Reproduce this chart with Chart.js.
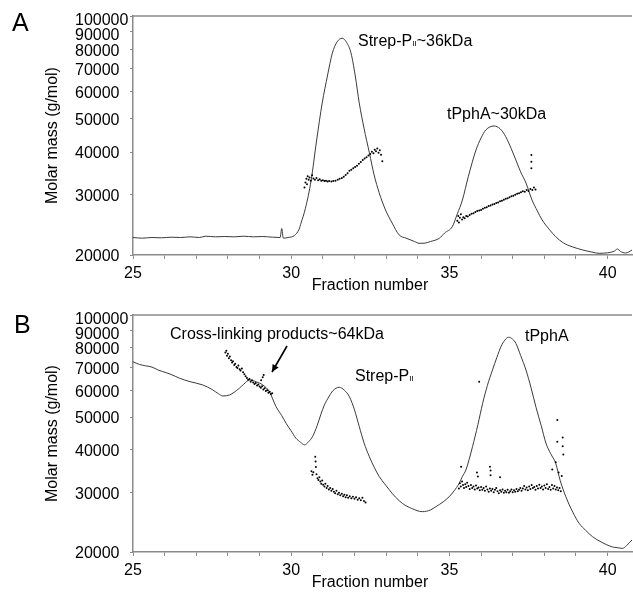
<!DOCTYPE html>
<html>
<head>
<meta charset="utf-8">
<script src="https://cdn.jsdelivr.net/npm/chart.js@4.4.1/dist/chart.umd.min.js"></script>
<style>
  html, body { margin: 0; padding: 0; background: #fff; }
  #wrap { position: relative; width: 633px; height: 596px; overflow: hidden; }
  canvas { position: absolute; left: 0; }
</style>
</head>
<body>
<div id="wrap">
  <canvas id="cA" width="633" height="298" style="top:0px"></canvas>
  <canvas id="cB" width="633" height="298" style="top:298px"></canvas>
</div>
<script>
// ---------- axis ticks ----------
const yTicks = [20000, 30000, 40000, 50000, 60000, 70000, 80000, 90000, 100000];
const xTicks = [25, 26, 27, 28, 29, 30, 31, 32, 33, 34, 35, 36, 37, 38, 39, 40];
const xTickLabels = [25, 30, 35, 40];

// ---------- Panel A: chromatogram trace ----------
const fracA = [25.0, 25.3, 25.6, 25.9, 26.2, 26.5, 26.8, 27.1, 27.3, 27.6, 27.9, 28.2, 28.5, 28.8, 29.1, 29.4, 29.65, 29.7, 29.75, 29.9,
  30.1, 30.25, 30.31, 30.45, 30.63, 30.8, 30.98, 31.15, 31.3, 31.45, 31.61, 31.75, 31.89, 32.02, 32.15, 32.3, 32.47, 32.62, 32.78, 32.98,
  33.19, 33.41, 33.63, 33.9, 34.04, 34.2, 34.4, 34.68, 34.85, 35.09, 35.25, 35.41, 35.6, 35.84, 36.0, 36.15, 36.41, 36.6, 36.78, 36.95,
  37.1, 37.25, 37.42, 37.61, 37.78, 37.93, 38.15, 38.36, 38.6, 38.88, 39.2, 39.5, 39.73, 40.0, 40.2, 40.31, 40.4, 40.57, 40.77];
const signalA = [22500, 22400, 22500, 22450, 22550, 22500, 22600, 22500, 22700, 22600, 22650, 22600, 22700, 22600, 22650, 22550, 22500, 23900, 22400, 22500,
  22800, 23800, 24800, 27400, 33100, 43100, 55700, 67200, 77900, 84000, 86100, 83700, 77900, 67200, 55700, 47000, 39800, 34300, 30400, 27100,
  24800, 22900, 22400, 21900, 21640, 21650, 21900, 22380, 23200, 24200, 26400, 28960, 34000, 40560, 44000, 46420, 47680, 46800, 44360, 41000,
  37920, 35000, 32480, 28960, 26900, 25320, 23800, 22620, 21700, 21140, 20700, 20400, 20230, 20300, 20500, 20820, 20500, 20270, 20680];

// ---------- Panel A: molar mass points (Strep-PII) ----------
const dotsA1Frac = [30.42, 30.45, 30.48, 30.5, 30.52, 30.55, 30.58, 30.62, 30.66, 30.7, 30.75, 30.8, 30.85, 30.9, 30.95, 31.0, 31.05, 31.1, 31.15, 31.2,
  31.27, 31.33, 31.4, 31.47, 31.53, 31.6, 31.66, 31.72, 31.78, 31.84, 31.9, 31.96, 32.02, 32.08, 32.14, 32.2, 32.26, 32.32, 32.38, 32.44,
  32.5, 32.55, 32.6, 32.64, 32.68, 32.72, 32.76, 32.8, 32.84, 32.88];
const dotsA1Mass = [31500, 32600, 33400, 32200, 34000, 33200, 33700, 33000, 34200, 33500, 33200, 33600, 33100, 33300, 33000, 33100, 32900, 33000, 32800, 32900,
  32800, 32900, 33000, 33200, 33400, 33600, 33900, 34300, 34700, 35300, 35500, 35900, 36200, 36500, 37000, 37400, 37900, 38300, 38600, 39100,
  39500, 40100, 39700, 40600, 40200, 41000, 39800, 40500, 39300, 37600];

// ---------- Panel A: molar mass points (tPphA) ----------
const dotsA2Frac = [35.25, 35.28, 35.3, 35.33, 35.36, 35.4, 35.44, 35.48, 35.53, 35.58, 35.64, 35.7, 35.76, 35.82, 35.88, 35.94, 36.0, 36.06, 36.12, 36.18,
  36.24, 36.3, 36.36, 36.42, 36.48, 36.54, 36.6, 36.66, 36.72, 36.78, 36.84, 36.9, 36.96, 37.02, 37.08, 37.14, 37.2, 37.26, 37.32, 37.38,
  37.44, 37.5, 37.56, 37.62, 37.67, 37.72, 37.59, 37.59, 37.59];
const dotsA2Mass = [25200, 26000, 24900, 25700, 26300, 25400, 25800, 25600, 26000, 25900, 26200, 26400, 26500, 26700, 26900, 27000, 27100, 27300, 27500, 27600,
  27800, 27900, 28100, 28200, 28400, 28500, 28700, 28800, 29000, 29200, 29300, 29500, 29700, 29800, 30000, 30200, 30300, 30500, 30700, 30600,
  31000, 30800, 31200, 31000, 31500, 31100, 35900, 37500, 39200];

// ---------- Panel B: chromatogram trace ----------
const fracB = [25.0, 25.2, 25.4, 25.6, 25.8, 25.94, 26.2, 26.47, 26.8, 27.2, 27.5, 27.7, 27.84, 28.05, 28.2, 28.36, 28.5, 28.68, 28.9, 29.1,
  29.31, 29.52, 29.7, 29.84, 30.0, 30.15, 30.3, 30.42, 30.55, 30.68, 30.82, 30.94, 31.05, 31.2, 31.31, 31.52, 31.68, 31.84, 32.0, 32.15,
  32.3, 32.47, 32.62, 32.78, 32.95, 33.1, 33.3, 33.52, 33.8, 34.15, 34.4, 34.57, 34.8, 34.99, 35.15, 35.31, 35.41, 35.52, 35.73, 35.9,
  36.05, 36.2, 36.36, 36.5, 36.63, 36.75, 36.87, 37.0, 37.1, 37.25, 37.42, 37.58, 37.73, 37.9, 38.05, 38.2, 38.36, 38.5, 38.68, 38.9,
  39.1, 39.3, 39.52, 39.8, 40.15, 40.3, 40.47, 40.6, 40.77];
const signalB = [72800, 71500, 70800, 70200, 68800, 68100, 66800, 65100, 63600, 62200, 60300, 58600, 57700, 58100, 59200, 60800, 62500, 64300, 63500, 62200,
  59400, 53700, 50500, 47900, 45500, 43300, 42100, 41400, 42300, 43900, 47200, 51000, 54300, 57600, 59700, 61200, 60000, 57400, 52500, 46900,
  42000, 38200, 35600, 33400, 31800, 30500, 29000, 27800, 26900, 26300, 26600, 27200, 28100, 29100, 30300, 31900, 33400, 34900, 40900, 47500,
  54900, 62000, 68800, 75000, 80700, 84300, 86000, 84800, 82500, 76000, 68800, 61000, 53700, 47200, 41900, 39000, 36500, 32500, 29100, 26200,
  24300, 23200, 22200, 21400, 20700, 20600, 20500, 20900, 21700];

// ---------- Panel B: molar mass points (cross-linking products) ----------
const dotsB1Frac = [27.92, 27.95, 27.97, 28.0, 28.03, 28.06, 28.1, 28.13, 28.16, 28.2, 28.23, 28.27, 28.3, 28.33, 28.37, 28.4, 28.44, 28.48, 28.52, 28.56,
  28.6, 28.64, 28.68, 28.72, 28.76, 28.8, 28.84, 28.88, 28.92, 28.96, 29.0, 29.04, 29.08, 29.12, 29.16, 29.2, 29.24, 29.28, 29.32, 29.36,
  29.4, 29.1, 29.13, 29.05];
const dotsB1Mass = [77500, 78500, 75800, 76800, 74500, 75500, 73600, 72400, 73000, 71200, 71800, 70300, 69800, 71000, 69200, 68600, 69500, 67800, 66900, 66000,
  65200, 64400, 64800, 63600, 64200, 63200, 62600, 63000, 62000, 62400, 61500, 61000, 61600, 60300, 60800, 59700, 60000, 59000, 59400, 58500,
  58800, 65500, 66500, 64200];

// ---------- Panel B: molar mass points (Strep-PII) ----------
const dotsB2Frac = [30.64, 30.67, 30.7, 30.76, 30.77, 30.78, 30.8, 30.83, 30.86, 30.89, 30.92, 30.95, 30.98, 31.01, 31.05, 31.08, 31.12, 31.15, 31.19, 31.23,
  31.27, 31.31, 31.35, 31.39, 31.43, 31.47, 31.51, 31.55, 31.6, 31.64, 31.68, 31.72, 31.76, 31.8, 31.85, 31.9, 31.95, 32.0, 32.05, 32.1,
  32.15, 32.2, 32.25, 32.3, 32.35];
const dotsB2Mass = [34600, 33800, 34400, 38200, 37000, 35600, 33900, 33000, 32600, 33200, 32300, 31800, 32500, 31600, 31200, 31800, 30900, 31300, 30600, 30900,
  30300, 30700, 30100, 29800, 30300, 29600, 29900, 29400, 29700, 29200, 29500, 29000, 29400, 28900, 29200, 28800, 29100, 28700, 29000, 28500,
  28800, 28400, 28900, 28300, 28000];

// ---------- Panel B: molar mass points (tPphA) ----------
const dotsB3Frac = [35.3, 35.33, 35.36, 35.4, 35.43, 35.46, 35.5, 35.53, 35.56, 35.6, 35.64, 35.68, 35.72, 35.76, 35.8, 35.84, 35.88, 35.92, 35.96, 36.0,
  36.04, 36.08, 36.12, 36.16, 36.2, 36.24, 36.28, 36.32, 36.36, 36.4, 36.44, 36.48, 36.52, 36.56, 36.6, 36.64, 36.68, 36.72, 36.76, 36.8,
  36.84, 36.88, 36.92, 36.96, 37.0, 37.04, 37.08, 37.12, 37.16, 37.2, 37.24, 37.28, 37.32, 37.36, 37.4, 37.44, 37.48, 37.52, 37.56, 37.6,
  37.64, 37.68, 37.72, 37.76, 37.8, 37.84, 37.88, 37.92, 37.96, 38.0, 38.04, 38.08, 38.12, 38.16, 38.2, 38.24, 38.28, 38.32, 38.36, 38.4,
  38.44, 38.48, 38.52,
  35.37, 35.94, 35.87, 35.9, 36.28, 36.3, 36.3, 36.6, 38.25, 38.36, 38.41, 38.41, 38.45, 38.58, 38.58, 38.6, 38.55];
const dotsB3Mass = [30800, 31900, 31200, 32300, 31500, 30900, 31700, 31100, 32000, 31300, 30700, 31500, 30900, 31200, 30600, 31400, 30800, 31000, 30400, 31100,
  30500, 30900, 30300, 31200, 30600, 30100, 30800, 30300, 30700, 30000, 30500, 30900, 30200, 29800, 30400, 30100, 30600, 29900, 30300, 30000,
  30500, 29900, 30200, 30600, 30000, 30400, 30100, 30700, 30200, 30500, 30900, 30300, 30800, 31300, 30600, 31000, 30400, 31200, 30700, 31500,
  30900, 31100, 30500, 31300, 30800, 31600, 30900, 31200, 30600, 31400, 30900, 31700, 30700, 31100, 30500, 31500, 30800, 31300, 30600, 31000,
  30400, 30900, 30200,
  35700, 63600, 34300, 33400, 35700, 34800, 33700, 33200, 35000, 36800, 49000, 42300, 34300, 43500, 41000, 38800, 33500];

// ---------- helpers ----------
const FONT = '"Liberation Sans", Arial, Helvetica, sans-serif';
const AXIS_GRAY = '#8a8a8a';
const toXY = (xs, ys) => xs.map((x, i) => ({ x: x, y: ys[i] }));

function drawRuns(ctx, x, y, runs) {
  let cx = x;
  runs.forEach(r => {
    ctx.font = r[1] + 'px ' + FONT;
    ctx.fillText(r[0], cx, y + (r[2] || 0));
    cx += ctx.measureText(r[0]).width;
  });
}

function makePanel(canvasId, cfg) {
  const decor = {
    id: 'decor_' + canvasId,
    afterDraw(chart) {
      const ctx = chart.ctx;
      const a = chart.chartArea;
      const ys = chart.scales.y;
      ctx.save();
      // top frame line
      ctx.strokeStyle = AXIS_GRAY;
      ctx.lineWidth = 1.5;
      ctx.beginPath();
      ctx.moveTo(a.left, a.top);
      ctx.lineTo(a.right, a.top);
      ctx.stroke();
      ctx.fillStyle = '#000';
      // y tick labels (left aligned, spread so they do not collide)
      ctx.font = '16px ' + FONT;
      ctx.textAlign = 'left';
      ctx.textBaseline = 'middle';
      let prev = a.top - 10;
      yTicks.slice().reverse().forEach(v => {
        const py = Math.max(ys.getPixelForValue(v) + 2, prev + 15);
        ctx.fillText(String(v), 75, py);
        prev = py;
      });
      ctx.textBaseline = 'alphabetic';
      // panel letter
      ctx.font = '25px ' + FONT;
      ctx.fillText(cfg.letter, cfg.letterX, cfg.letterY);
      // x axis title
      ctx.font = '16px ' + FONT;
      ctx.textAlign = 'center';
      ctx.fillText('Fraction number', 370, cfg.xTitleY);
      // y axis title
      ctx.save();
      ctx.translate(57, (a.top + a.bottom) / 2);
      ctx.rotate(-Math.PI / 2);
      ctx.textAlign = 'center';
      ctx.fillText('Molar mass (g/mol)', 0, 0);
      ctx.restore();
      // annotations
      ctx.textAlign = 'left';
      cfg.labels.forEach(l => drawRuns(ctx, l.x, l.y, l.runs));
      if (cfg.arrow) {
        const [x1, y1, x2, y2] = cfg.arrow;
        ctx.strokeStyle = '#000';
        ctx.lineWidth = 1.6;
        ctx.beginPath();
        ctx.moveTo(x1, y1);
        ctx.lineTo(x2, y2);
        ctx.stroke();
        const ang = Math.atan2(y2 - y1, x2 - x1);
        const L = 8, W = 0.45;
        ctx.beginPath();
        ctx.moveTo(x2, y2);
        ctx.lineTo(x2 - L * Math.cos(ang - W), y2 - L * Math.sin(ang - W));
        ctx.lineTo(x2 - L * Math.cos(ang + W), y2 - L * Math.sin(ang + W));
        ctx.closePath();
        ctx.fill();
      }
      ctx.restore();
    }
  };

  const datasets = [{
    type: 'line',
    data: toXY(cfg.traceX, cfg.traceY),
    borderColor: '#3a3a3a',
    borderWidth: 1,
    pointRadius: 0,
    cubicInterpolationMode: 'monotone',
    fill: false,
    order: 2
  }];
  cfg.dots.forEach(d => datasets.push({
    type: 'scatter',
    data: toXY(d[0], d[1]),
    backgroundColor: '#000',
    borderWidth: 0,
    pointRadius: 1,
    pointHoverRadius: 1,
    order: 1
  }));

  return new Chart(document.getElementById(canvasId), {
    data: { datasets },
    options: {
      responsive: false,
      animation: false,
      events: [],
      layout: { padding: { top: cfg.padTop, left: 0, right: 0, bottom: 0 } },
      plugins: { legend: { display: false }, tooltip: { enabled: false } },
      scales: {
        x: {
          type: 'linear',
          min: 25,
          max: 40.77,
          afterBuildTicks: s => { s.ticks = xTicks.map(v => ({ value: v })); },
          afterFit: s => { s.height = cfg.xHeight; },
          grid: { display: true, drawOnChartArea: false, drawTicks: true, tickLength: 4, color: AXIS_GRAY, lineWidth: 1 },
          border: { display: true, color: AXIS_GRAY, width: 1.5 },
          ticks: {
            autoSkip: false,
            maxRotation: 0,
            padding: 5,
            color: '#000',
            font: { family: FONT, size: 16 },
            callback: v => (xTickLabels.includes(v) ? String(v) : '')
          }
        },
        y: {
          type: 'logarithmic',
          min: 20000,
          max: 100000,
          afterBuildTicks: s => { s.ticks = yTicks.map(v => ({ value: v })); },
          afterFit: s => { s.width = 133; },
          grid: { display: true, drawOnChartArea: false, drawTicks: true, tickLength: 3, color: AXIS_GRAY, lineWidth: 1 },
          border: { display: true, color: AXIS_GRAY, width: 1.5 },
          ticks: { display: false }
        }
      }
    },
    plugins: [decor]
  });
}

makePanel('cA', {
  traceX: fracA, traceY: signalA,
  dots: [[dotsA1Frac, dotsA1Mass], [dotsA2Frac, dotsA2Mass]],
  padTop: 16, xHeight: 43,
  letter: 'A', letterX: 12, letterY: 31,
  xTitleY: 290,
  labels: [
    { x: 358, y: 46, runs: [['Strep-P', 16], ['II', 8], ['~36kDa', 16]] },
    { x: 447, y: 119, runs: [['tPphA~30kDa', 16]] }
  ]
});

makePanel('cB', {
  traceX: fracB, traceY: signalB,
  dots: [[dotsB1Frac, dotsB1Mass], [dotsB2Frac, dotsB2Mass], [dotsB3Frac, dotsB3Mass]],
  padTop: 17, xHeight: 44,
  letter: 'B', letterX: 14, letterY: 35,
  xTitleY: 289,
  labels: [
    { x: 170, y: 41, runs: [['Cross-linking products~64kDa', 16]] },
    { x: 355, y: 83, runs: [['Strep-P', 16], ['II', 8]] },
    { x: 525, y: 43, runs: [['tPphA', 16]] }
  ],
  arrow: [287, 48, 272, 74]
});
</script>
</body>
</html>
